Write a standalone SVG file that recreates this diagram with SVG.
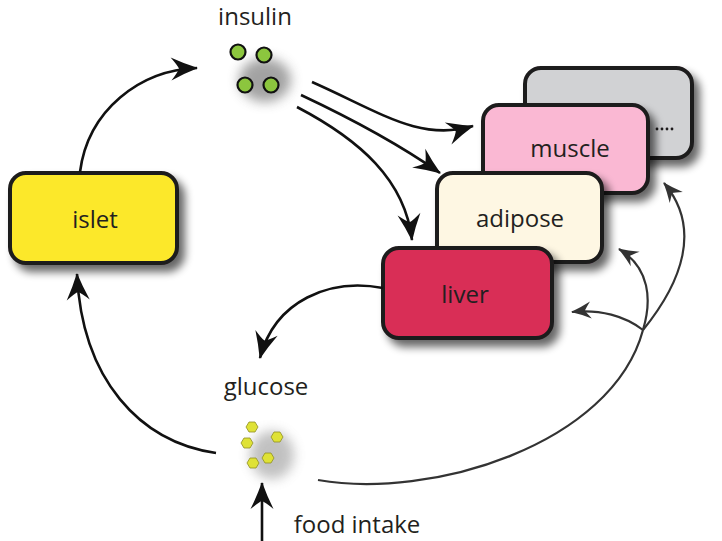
<svg xmlns="http://www.w3.org/2000/svg" width="722" height="541" viewBox="0 0 722 541">
<style>
.box{stroke:#1e1b1c;stroke-width:4}
.lbl{font-family:"Open Sans","Liberation Sans",sans-serif;font-size:24px;fill:#231f20;text-anchor:middle}
.arr{fill:none;stroke:#111;stroke-width:2.6}
.garr{fill:none;stroke:#333;stroke-width:2.2}
.dot{fill:#8cc63e;stroke:#111;stroke-width:2.2}
.hex{fill:#dfe236;stroke:#8f8f25;stroke-width:0.8}
</style>
<defs>
<filter id="sh" x="-20%" y="-20%" width="150%" height="160%">
<feGaussianBlur in="SourceAlpha" stdDeviation="4"/>
<feOffset dx="6" dy="7" result="b"/>
<feComponentTransfer><feFuncA type="linear" slope="0.6"/></feComponentTransfer>
<feMerge><feMergeNode/><feMergeNode in="SourceGraphic"/></feMerge>
</filter>
<filter id="blur" x="-50%" y="-50%" width="200%" height="200%">
<feGaussianBlur stdDeviation="6"/>
</filter>
<marker id="ah" viewBox="-28 -13 30 26" refX="0" refY="0" markerWidth="30" markerHeight="26" markerUnits="userSpaceOnUse" orient="auto" overflow="visible">
<path d="M1,0 Q-13,-5 -26,-11.5 Q-19,-3 -18,0 Q-19,3 -26,11.5 Q-13,5 1,0Z" fill="#111"/>
</marker>
<marker id="gh" viewBox="-22 -10 24 20" refX="0" refY="0" markerWidth="24" markerHeight="20" markerUnits="userSpaceOnUse" orient="auto" overflow="visible">
<path d="M1,0 Q-9,-3.5 -19,-8.5 Q-14,-2 -13,0 Q-14,2 -19,8.5 Q-9,3.5 1,0Z" fill="#333"/>
</marker>
</defs>
<rect width="722" height="541" fill="#fff"/>

<g id="muscle-other">
<rect class="box" x="525" y="68" width="167" height="90" rx="16" fill="#d1d2d4" filter="url(#sh)"/>
<g fill="#1e1b1c"><circle cx="657" cy="129" r="1.4"/><circle cx="662" cy="129" r="1.4"/><circle cx="667" cy="129" r="1.4"/><circle cx="672" cy="129" r="1.4"/></g>
</g>
<g id="muscle">
<rect class="box" x="483" y="105" width="165" height="88" rx="16" fill="#fab8d3" filter="url(#sh)"/>
<text class="lbl" x="570" y="157">muscle</text>
</g>
<g id="adipose">
<rect class="box" x="437" y="173" width="165" height="89" rx="16" fill="#fef7e3" filter="url(#sh)"/>
<text class="lbl" x="520" y="227">adipose</text>
</g>
<g id="liver">
<rect class="box" x="383" y="248" width="169" height="90" rx="16" fill="#d92d56" filter="url(#sh)"/>
<text class="lbl" x="465" y="303">liver</text>
</g>
<g id="islet">
<rect class="box" x="10" y="173" width="167" height="90" rx="16" fill="#fce82c" filter="url(#sh)"/>
<text class="lbl" x="95" y="228">islet</text>
</g>

<g id="insulin">
<text class="lbl" x="255" y="25">insulin</text>
<ellipse cx="265" cy="80" rx="26" ry="22" fill="#666" opacity="0.6" filter="url(#blur)"/>
<circle class="dot" cx="238" cy="52" r="7.5"/>
<circle class="dot" cx="264" cy="55" r="7.5"/>
<circle class="dot" cx="245" cy="85" r="7.5"/>
<circle class="dot" cx="271" cy="85" r="7.5"/>
</g>

<g id="glucose">
<text class="lbl" x="266" y="395">glucose</text>
<ellipse cx="272" cy="455" rx="22" ry="24" fill="#777" opacity="0.45" filter="url(#blur)"/>
<polygon class="hex" points="258,427 255,432 249,432 246,427 249,422 255,422"/>
<polygon class="hex" points="283,437 280,442 274,442 271,437 274,432 280,432"/>
<polygon class="hex" points="253,443 250,448 244,448 241,443 244,438 250,438"/>
<polygon class="hex" points="274,458 271,463 265,463 262,458 265,453 271,453"/>
<polygon class="hex" points="259,463 256,468 250,468 247,463 250,458 256,458"/>
</g>

<g id="food-intake">
<text class="lbl" x="357" y="533">food intake</text>
</g>

<g id="connectors">
<path class="arr" d="M80,172 C88,110 140,70 197,68" marker-end="url(#ah)"/>
<path class="arr" d="M216,453 C140,442 82,380 77,274" marker-end="url(#ah)"/>
<path class="arr" d="M312,82 C380,112 420,142 473,126" marker-end="url(#ah)"/>
<path class="arr" d="M301,95 C350,118 400,145 440,173" marker-end="url(#ah)"/>
<path class="arr" d="M297,107 C360,140 405,180 412,240" marker-end="url(#ah)"/>
<path class="arr" d="M383,288 C330,278 275,300 260,358" marker-end="url(#ah)"/>
<path class="arr" d="M262,541 L262,483" marker-end="url(#ah)"/>
<path class="garr" d="M318,480 C430,500 612,445 643,330"/>
<path class="garr" d="M643,330 C652,300 650,268 619,249" marker-end="url(#gh)"/>
<path class="garr" d="M643,330 C682,282 702,228 664,183" marker-end="url(#gh)"/>
<path class="garr" d="M643,330 C625,316 600,309 572,312" marker-end="url(#gh)"/>
</g>
</svg>
